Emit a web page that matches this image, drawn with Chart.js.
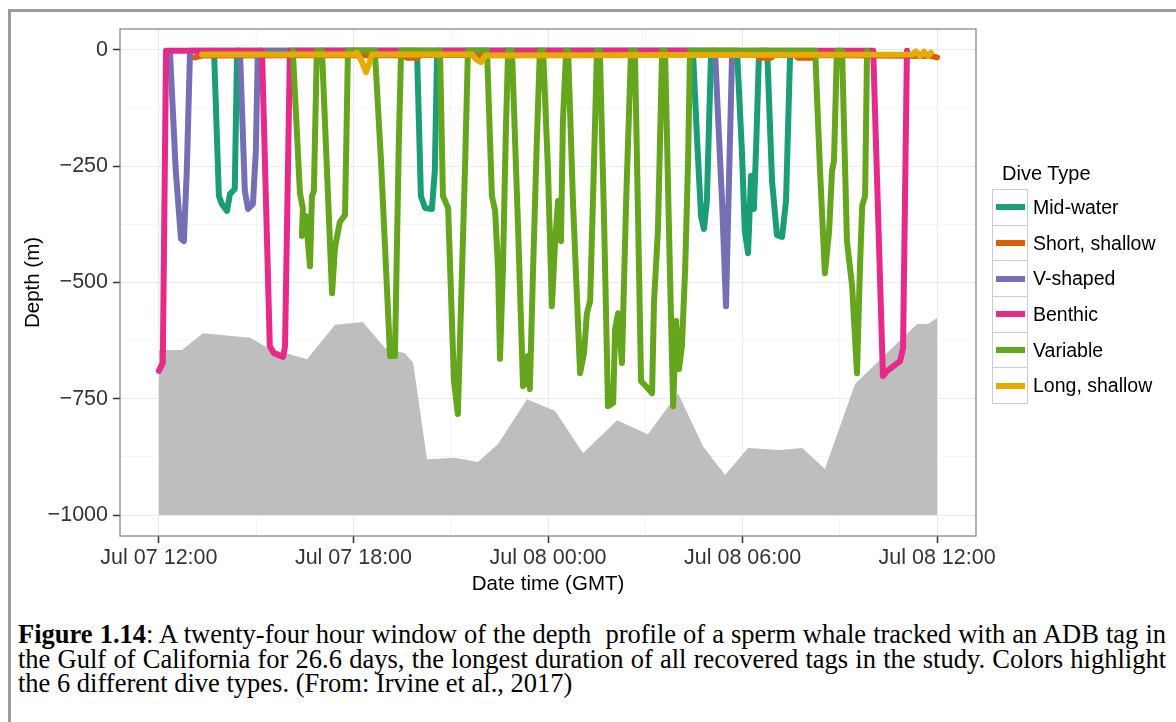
<!DOCTYPE html>
<html>
<head>
<meta charset="utf-8">
<title>Dive profile</title>
<script src="https://cdn.jsdelivr.net/npm/chart.js@4.4.1/dist/chart.umd.min.js"></script>
<style>
    html, body { margin: 0; padding: 0; background: #ffffff; }
    body {
        position: relative;
        width: 1176px;
        height: 722px;
        overflow: hidden;
        font-family: "Liberation Sans", Arial, sans-serif;
    }
    .frame {
        position: absolute;
        left: 8px;
        top: 9px;
        width: 1400px;
        height: 900px;
        border-left: 3px solid #9b9b9b;
        border-top: 3px solid #9b9b9b;
    }
    .plot { position: absolute; left: 0; top: 0; width: 1176px; height: 600px; }
    .legend { position: absolute; left: 992px; top: 161px; color: #000; }
    .legend-title { font-size: 20px; line-height: 24px; height: 28px; margin-left: 10px; }
    .key-row { display: flex; align-items: center; height: 36.7px; }
    .key-row + .key-row { margin-top: -1px; }
    .key {
        box-sizing: border-box;
        width: 36px;
        height: 36.7px;
        border: 1px solid #cccccc;
        display: flex;
        align-items: center;
        justify-content: center;
    }
    .key span { display: block; width: 29px; height: 6px; }
    .key-label { font-size: 19.5px; margin-left: 5px; white-space: nowrap; }
    .caption {
        position: absolute;
        left: 18px;
        top: 622px;
        width: 1148px;
        font-family: "Liberation Serif", "Times New Roman", serif;
        font-size: 26.5px;
        line-height: 24.5px;
        color: #000;
    }
    .caption .full { text-align: justify; text-align-last: justify; white-space: nowrap; }
</style>
</head>
<body>
<div class="frame"></div>
<div class="plot"><canvas id="diveChart"></canvas></div>
<div class="legend" id="legend"><div class="legend-title">Dive Type</div></div>
<div class="caption">
    <div class="full"><b>Figure 1.14</b>: A twenty-four hour window of the depth&nbsp; profile of a sperm whale tracked with an ADB tag in</div>
    <div class="full">the Gulf of California for 26.6 days, the longest duration of all recovered tags in the study. Colors highlight</div>
    <div>the 6 different dive types. (From: Irvine et al., 2017)</div>
</div>
<script>
// hours after Jul 07 12:00 GMT, depth in metres
const xTickHours = [0, 6, 12, 18, 24];
const xTickLabels = ["Jul 07 12:00", "Jul 07 18:00", "Jul 08 00:00", "Jul 08 06:00", "Jul 08 12:00"];
const xMinorHours = [3, 9, 15, 21];
const yTickDepths = [0, -250, -500, -750, -1000];
const yTickLabels = ["0", "\u2212250", "\u2212500", "\u2212750", "\u22121000"];
const yMinorDepths = [-125, -375, -625, -875];

const typeNames = ["Mid-water", "Short, shallow", "V-shaped", "Benthic", "Variable", "Long, shallow"];
const typeColors = ["#1B9E77", "#D95F02", "#7570B3", "#E7298A", "#66A61E", "#E6AB02"];

const seafloorHours = [0.00, 0.71, 1.36, 2.81, 3.36, 4.57, 5.43, 6.29, 6.97, 7.59, 7.84, 8.27, 9.13, 9.84, 10.46, 11.35,
    12.22, 13.08, 14.13, 15.08, 16.01, 16.78, 17.46, 18.17, 19.16, 19.84, 20.54, 21.47, 23.38, 23.72, 24.00];
const seafloorDepth = [-645, -645, -609, -619, -641, -665, -591, -585, -641, -652, -673, -880, -877, -886, -847, -751,
    -776, -867, -796, -826, -738, -852, -914, -856, -860, -856, -901, -718, -589, -589, -576];

const midWaterHours = [1.70, 1.85, 1.94, 2.10, 2.19, 2.34, 2.41,
    7.96, 8.08, 8.21, 8.42, 8.51, 8.58,
    16.47, 16.60, 16.72, 16.81, 16.90, 17.03,
    17.83, 17.98, 18.07, 18.17, 18.26, 18.35, 18.42, 18.51,
    18.76, 18.91, 19.06, 19.22, 19.34, 19.47];
const midWaterDepth = [-2, -314, -331, -346, -310, -299, -2,
    -2, -314, -340, -342, -260, -2,
    -2, -196, -357, -385, -325, -2,
    -2, -217, -389, -437, -271, -342, -206, -2,
    -2, -282, -398, -402, -325, -2];

const shortShallowHours = [1.11, 1.33, 7.52, 7.65, 7.96, 8.08, 18.44, 18.54, 18.88, 18.98, 19.62, 19.71, 20.18, 20.27, 23.81, 24.00];
const shortShallowDepth = [-16, -12, -11, -17, -17, -11, -11, -17, -17, -11, -11, -17, -17, -11, -13, -16];

const vShapedHours = [0.34, 0.52, 0.68, 0.77, 0.86, 0.96,
    2.50, 2.65, 2.75, 2.90, 2.99, 3.05,
    17.15, 17.37, 17.49, 17.59, 17.68];
const vShapedDepth = [-2, -260, -406, -411, -260, -2,
    -2, -303, -342, -331, -217, -2,
    -2, -329, -551, -256, -2];

const benthicHours = [0.00, 0.12, 0.22,
    3.18, 3.42, 3.55, 3.83, 3.89, 4.04,
    22.03, 22.33, 22.46, 22.86, 22.95, 23.07];
const benthicDepth = [-690, -673, -2,
    -2, -637, -652, -660, -637, -2,
    -2, -701, -690, -669, -641, -2];

const variableHours = [4.13, 4.35, 4.44, 4.41, 4.53, 4.66, 4.72, 4.78, 4.87,
    5.03, 5.34, 5.43, 5.58, 5.74, 5.83,
    6.66, 6.85, 7.13, 7.28, 7.40, 7.47,
    8.67, 8.76, 8.92, 9.10, 9.22, 9.35, 9.44, 9.53,
    10.12, 10.27, 10.37, 10.46, 10.52, 10.61, 10.70, 10.77,
    10.89, 11.07, 11.23, 11.35, 11.38, 11.44, 11.54, 11.66, 11.75,
    11.85, 12.00, 12.12, 12.22, 12.31, 12.40, 12.46, 12.56,
    12.62, 12.77, 12.99, 13.11, 13.20, 13.30, 13.42, 13.51,
    13.60, 13.73, 13.85, 14.01, 14.07, 14.16, 14.28, 14.41, 14.56,
    14.68, 14.78, 14.87, 15.02, 15.21, 15.27, 15.39, 15.52,
    15.61, 15.76, 15.86, 15.95, 16.04, 16.13, 16.23, 16.32, 16.38,
    20.24, 20.39, 20.54, 20.67, 20.76, 20.82, 20.91,
    21.07, 21.22, 21.38, 21.53, 21.62, 21.69, 21.78, 21.84];
const variableDepth = [-2, -308, -340, -400, -357, -465, -314, -303, -2,
    -2, -523, -425, -370, -355, -2,
    -2, -239, -658, -658, -196, -2,
    -2, -314, -340, -712, -783, -471, -256, -2,
    -2, -314, -346, -471, -664, -471, -174, -2,
    -2, -368, -723, -712, -658, -729, -471, -185, -2,
    -2, -260, -551, -411, -325, -411, -153, -2,
    -2, -325, -695, -652, -566, -540, -239, -2,
    -2, -368, -766, -759, -600, -566, -673, -325, -2,
    -2, -368, -712, -723, -738, -540, -389, -2,
    -2, -475, -766, -583, -686, -637, -471, -239, -2,
    -2, -260, -480, -389, -260, -239, -2,
    -2, -411, -508, -695, -471, -335, -314, -2];

const longShallowHours = [1.33, 6.02, 6.11, 6.26, 6.39, 6.48, 6.57, 9.66, 9.78, 9.93, 10.06,
    23.23, 23.35, 23.48, 23.60, 23.72, 23.81];
const longShallowDepth = [-10, -10, -6, -25, -48, -30, -10, -10, -20, -26, -12,
    -10, -3, -14, -4, -13, -6];

const typeSeries = [
    [midWaterHours, midWaterDepth],
    [shortShallowHours, shortShallowDepth],
    [vShapedHours, vShapedDepth],
    [benthicHours, benthicDepth],
    [variableHours, variableDepth],
    [longShallowHours, longShallowDepth],
];

const xGridHours = [...xTickHours, ...xMinorHours].sort((a, b) => a - b);
const yGridDepths = [...yTickDepths, ...yMinorDepths].sort((a, b) => a - b);

function track(hours, depth) {
    return hours.map((h, i) => ({ x: h, y: depth[i] }));
}

function gridColor(majors) {
    return (ctx) => (majors.includes(ctx.tick.value) ? "#e9e9e9" : "#f5f5f5");
}

function tickColor(majors) {
    return (ctx) => (majors.includes(ctx.tick.value) ? "#333333" : "rgba(0,0,0,0)");
}

// grey frame around the plotting panel, like theme_bw
const panelBorder = {
    id: "panelBorder",
    afterDraw(chart) {
        const { ctx, chartArea: a } = chart;
        ctx.save();
        ctx.strokeStyle = "#808080";
        ctx.lineWidth = 1.2;
        ctx.strokeRect(a.left, a.top, a.right - a.left, a.bottom - a.top);
        ctx.restore();
    },
};

function buildLegend() {
    const box = document.getElementById("legend");
    typeNames.forEach((name, i) => {
        const row = document.createElement("div");
        row.className = "key-row";
        row.innerHTML = `<div class="key"><span style="background:${typeColors[i]}"></span></div>` +
            `<div class="key-label">${name}</div>`;
        box.appendChild(row);
    });
}

function renderDiveChart() {
    const diveSets = typeNames.map((name, i) => ({
        label: name,
        data: track(typeSeries[i][0], typeSeries[i][1]),
        borderColor: typeColors[i],
        borderWidth: 6,
        pointRadius: 0,
        fill: false,
        tension: 0,
        borderCapStyle: "round",
        borderJoinStyle: "round",
        order: typeNames.length - i,
    }));
    const seafloorSet = {
        label: "Seafloor",
        data: track(seafloorHours, seafloorDepth),
        borderColor: "rgba(0,0,0,0)",
        borderWidth: 0,
        backgroundColor: "#bebebe",
        fill: { value: -1000 },
        pointRadius: 0,
        tension: 0,
        order: 50,
    };

    Chart.defaults.font.family = "'Liberation Sans', Arial, sans-serif";

    new Chart(document.getElementById("diveChart"), {
        type: "line",
        data: { datasets: [seafloorSet, ...diveSets] },
        options: {
            responsive: true,
            maintainAspectRatio: false,
            animation: false,
            devicePixelRatio: 1,
            layout: { padding: { left: 0, top: 29, right: 200, bottom: 0 } },
            plugins: {
                legend: { display: false },
                tooltip: { enabled: false },
            },
            scales: {
                x: {
                    type: "linear",
                    min: -1.2,
                    max: 25.2,
                    afterBuildTicks: (axis) => { axis.ticks = xGridHours.map((v) => ({ value: v })); },
                    afterFit: (axis) => { axis.height = 64; },
                    ticks: {
                        autoSkip: false,
                        maxRotation: 0,
                        padding: 2,
                        color: "#333333",
                        font: { size: 21.5 },
                        callback: (value) => {
                            const k = xTickHours.indexOf(value);
                            return k >= 0 ? xTickLabels[k] : "";
                        },
                    },
                    grid: {
                        color: gridColor(xTickHours),
                        lineWidth: 1,
                        tickLength: 7,
                        tickWidth: 1.5,
                        tickColor: tickColor(xTickHours),
                    },
                    border: { display: false },
                    title: {
                        display: true,
                        text: "Date time (GMT)",
                        color: "#000000",
                        font: { size: 20.5 },
                        padding: { top: 0, bottom: 3 },
                    },
                },
                y: {
                    type: "linear",
                    min: -1045,
                    max: 45,
                    afterBuildTicks: (axis) => { axis.ticks = yGridDepths.map((v) => ({ value: v })); },
                    afterFit: (axis) => { axis.width = 120; },
                    ticks: {
                        padding: 5,
                        color: "#333333",
                        font: { size: 21.5 },
                        callback: (value) => {
                            const k = yTickDepths.indexOf(value);
                            return k >= 0 ? yTickLabels[k] : "";
                        },
                    },
                    grid: {
                        color: gridColor(yTickDepths),
                        lineWidth: 1,
                        tickLength: 7,
                        tickWidth: 1.5,
                        tickColor: tickColor(yTickDepths),
                    },
                    border: { display: false },
                    title: {
                        display: true,
                        text: "Depth (m)",
                        color: "#000000",
                        font: { size: 20.5 },
                        padding: { top: 21, bottom: 0 },
                    },
                },
            },
        },
        plugins: [panelBorder],
    });
}

document.addEventListener("DOMContentLoaded", () => {
    buildLegend();
    renderDiveChart();
});
</script>
</body>
</html>
